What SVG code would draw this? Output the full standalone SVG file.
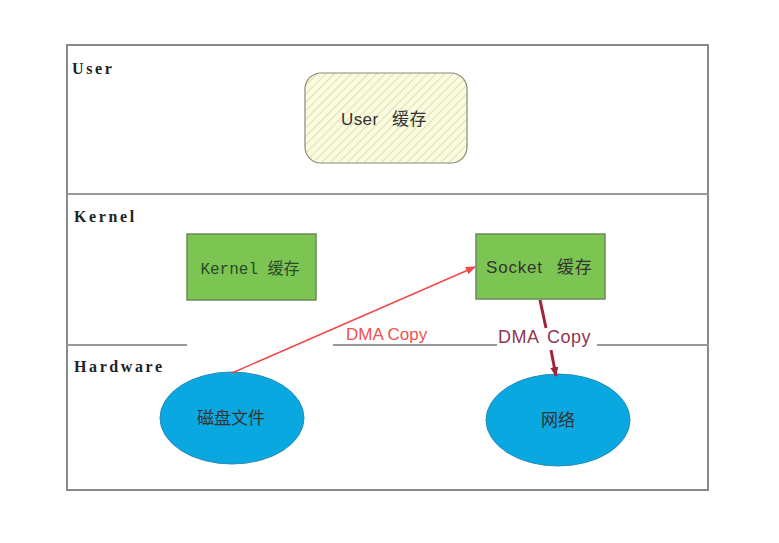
<svg xmlns="http://www.w3.org/2000/svg" width="779" height="543" viewBox="0 0 779 543">
<defs>
<pattern id="hatch" patternUnits="userSpaceOnUse" width="6" height="6" patternTransform="rotate(45)">
<rect width="6" height="6" fill="#fbfbe0"/>
<line x1="0" y1="0" x2="0" y2="6" stroke="#d8d8a8" stroke-width="1.6"/>
</pattern>
<marker id="ahRed" markerWidth="10" markerHeight="10" refX="9" refY="5" orient="auto" markerUnits="userSpaceOnUse">
<path d="M0,1 L10,5 L0,9 Z" fill="#f04848"/>
</marker>
<marker id="ahDark" markerWidth="10" markerHeight="10" refX="9" refY="5" orient="auto" markerUnits="userSpaceOnUse">
<path d="M0,1 L10,5 L0,9 Z" fill="#a3233a"/>
</marker>
</defs>
<style>
.lane{font-family:"Liberation Serif","Noto Sans CJK SC",serif;font-weight:bold;font-size:16px;fill:#222;letter-spacing:2.6px}
.frame{fill:none;stroke:#8a8a8a;stroke-width:2}
.sep{stroke:#999;stroke-width:2}
.gbox{fill:#7dc552;stroke:#6a8a5a;stroke-width:1.5}
.ell{fill:#0aa8e0;stroke:#2a8ab8;stroke-width:1}
.t{font-family:"Liberation Sans","Noto Sans CJK SC",sans-serif;font-size:17px;fill:#333}
.tm{font-family:"Liberation Mono","Noto Sans CJK SC",monospace;font-size:16px;fill:#2a4a2a}
</style>
<rect x="0" y="0" width="779" height="543" fill="#fff"/>
<g id="frame">
<rect class="frame" x="67" y="45" width="641" height="445"/>
<line class="sep" x1="67" y1="194" x2="708" y2="194"/>
<line class="sep" x1="67" y1="345" x2="187" y2="345"/>
<line class="sep" x1="333" y1="345" x2="497" y2="345"/>
<line class="sep" x1="597" y1="345" x2="708" y2="345"/>
<text class="lane" x="72" y="74">User</text>
<text class="lane" x="74" y="222">Kernel</text>
<text class="lane" x="74" y="372">Hardware</text>
</g>
<g id="user-cache">
<rect x="305" y="73" width="162" height="90" rx="16" fill="url(#hatch)" stroke="#8a8a7a" stroke-width="1.2"/>
<text class="t" x="341" y="125" fill="#444" letter-spacing="0.4">User<tspan x="392">缓存</tspan></text>
</g>
<g id="kernel-cache">
<rect class="gbox" x="187" y="234" width="129" height="66"/>
<text class="tm" x="250" y="274" text-anchor="middle">Kernel 缓存</text>
</g>
<g id="socket-cache">
<rect class="gbox" x="476" y="234" width="129" height="65"/>
<text class="t" x="486" y="273" fill="#2a4a2a" letter-spacing="0.8">Socket<tspan x="557">缓存</tspan></text>
</g>
<g id="disk">
<ellipse class="ell" cx="232" cy="418" rx="72" ry="46"/>
<text class="t" x="231" y="424" text-anchor="middle" fill="#1a3a5a" font-size="18">磁盘文件</text>
</g>
<g id="network">
<ellipse class="ell" cx="558" cy="420" rx="72" ry="46"/>
<text class="t" x="558" y="426" text-anchor="middle" fill="#1a3a5a">网络</text>
</g>
<g id="connectors">
<line x1="232" y1="373" x2="475" y2="267" stroke="#f04848" stroke-width="1.5" marker-end="url(#ahRed)"/>
<text x="346" y="340" font-family="Liberation Sans, sans-serif" font-size="17" fill="#f25050">DMA Copy</text>
<line x1="540" y1="300" x2="546" y2="328" stroke="#a3233a" stroke-width="3"/>
<line x1="551" y1="350" x2="556" y2="376" stroke="#a3233a" stroke-width="3" marker-end="url(#ahDark)"/>
<text x="498" y="343" font-family="Liberation Sans, sans-serif" font-size="18" fill="#8e3a4e" letter-spacing="0.5">DMA<tspan x="547">Copy</tspan></text>
</g>
</svg>
